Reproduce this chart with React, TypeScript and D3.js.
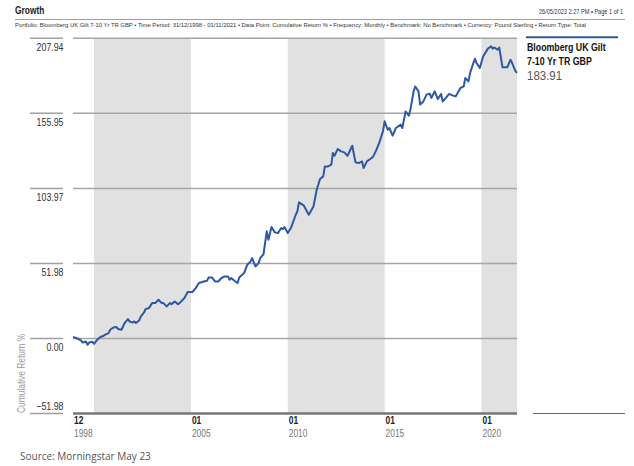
import React from "react";
import * as d3 from "d3";

// monthly cumulative return %
const months = [
  "1998-12", "1999-01", "1999-03", "1999-05", "1999-06", "1999-08", "1999-09", "1999-10", "1999-12",
  "2000-01", "2000-03", "2000-05", "2000-07", "2000-08", "2000-10", "2000-11",
  "2001-01", "2001-03", "2001-04", "2001-06", "2001-07", "2001-08", "2001-10", "2001-11",
  "2002-01", "2002-02", "2002-03", "2002-05", "2002-06", "2002-08", "2002-09", "2002-11",
  "2003-01", "2003-03", "2003-05", "2003-07", "2003-08", "2003-10", "2003-12",
  "2004-01", "2004-03", "2004-05", "2004-06", "2004-09", "2004-11",
  "2005-02", "2005-04", "2005-06", "2005-08", "2005-09", "2005-11", "2005-12",
  "2006-02", "2006-04", "2006-06", "2006-08", "2006-10", "2006-12",
  "2007-01", "2007-02", "2007-04", "2007-06", "2007-07", "2007-10", "2007-12",
  "2008-02", "2008-03", "2008-05", "2008-07", "2008-08", "2008-10", "2008-12",
  "2009-01", "2009-03", "2009-05", "2009-07", "2009-09", "2009-10", "2009-11",
  "2010-01", "2010-03", "2010-06", "2010-07", "2010-08", "2010-11",
  "2011-02", "2011-05", "2011-07", "2011-09", "2011-11", "2011-12",
  "2012-02", "2012-04", "2012-05", "2012-06", "2012-08", "2012-10", "2012-12",
  "2013-02", "2013-05", "2013-07", "2013-09", "2013-11", "2013-12",
  "2014-02", "2014-05", "2014-06", "2014-08", "2014-10", "2014-12",
  "2015-01", "2015-03", "2015-04", "2015-06", "2015-08", "2015-11", "2015-12",
  "2016-02", "2016-04", "2016-05", "2016-07", "2016-08", "2016-10", "2016-11",
  "2017-01", "2017-03", "2017-05", "2017-06", "2017-08", "2017-10", "2017-12",
  "2018-01", "2018-03", "2018-05", "2018-07", "2018-09", "2018-12",
  "2019-02", "2019-03", "2019-05", "2019-06", "2019-08", "2019-09", "2019-10", "2019-12",
  "2020-02", "2020-05", "2020-07", "2020-08", "2020-09", "2020-11", "2020-12",
  "2021-02", "2021-05", "2021-07", "2021-08", "2021-10", "2021-11",
];

const returns = [
  1.0, 0.7, -0.2, -1.4, -2.8, -2.1, -4.4, -2.8, -2.3,
  -3.7, -0.9, 1.0, 1.9, 2.6, 3.7, 6.0,
  7.6, 7.9, 6.5, 6.0, 8.3, 10.7, 13.4, 11.8,
  11.1, 11.8, 10.7, 12.5, 15.2, 18.0, 20.4, 21.0,
  24.5, 24.5, 26.8, 24.5, 24.5, 22.2, 24.5,
  23.8, 25.6, 23.8, 24.5, 28.0, 32.2,
  32.2, 34.9, 38.4, 39.1, 39.5, 40.0, 42.3,
  42.3, 39.5, 39.5, 41.9, 43.0, 43.0,
  40.7, 41.9, 40.0, 38.4, 42.3, 45.3, 51.1,
  53.4, 55.7, 49.9, 52.2, 55.7, 58.5, 74.2,
  68.4, 77.2, 73.5, 73.0, 76.5, 75.8, 77.2,
  73.0, 76.5, 85.7, 88.0, 94.3, 92.0,
  85.7, 91.5, 103.0, 110.5, 112.3, 119.2,
  119.2, 120.4, 128.5, 126.6, 131.3, 129.6, 128.9,
  126.6, 133.5, 122.0, 121.5, 122.7, 118.1,
  122.7, 125.0, 126.1, 130.8, 136.5, 143.5,
  150.4, 144.6, 145.8, 140.5, 145.8, 148.1, 145.8,
  157.3, 154.3, 158.5, 171.2, 174.6, 171.2, 162.0,
  164.2, 168.9, 169.6, 166.6, 171.2, 165.9, 169.4,
  164.2, 166.6, 169.4, 168.4, 167.7, 173.5,
  174.6, 180.4, 178.1, 184.0, 190.8, 193.8, 190.8, 187.4,
  195.4, 200.8, 202.4, 200.8, 201.6, 200.0, 201.6,
  187.8, 187.8, 193.1, 190.8, 185.3, 183.91,
];

const yTicks = [-51.98, 0, 51.98, 103.97, 155.95, 207.94];
const xTicks = ["1998-12", "2005-01", "2010-01", "2015-01", "2020-01"];
const shadedBands = [
  ["2000-01", "2005-01"],
  ["2010-01", "2015-01"],
  ["2020-01", "2021-11"],
];

const seriesName = ["Bloomberg UK Gilt", "7-10 Yr TR GBP"];
const lastValue = "183.91";

const subtitle =
  "Portfolio: Bloomberg UK Gilt 7-10 Yr TR GBP • Time Period: 31/12/1998 - 01/11/2021 • Data Point: Cumulative Return % • Frequency: Monthly • Benchmark: No Benchmark • Currency: Pound Sterling • Return Type: Total";

const parse = d3.timeParse("%Y-%m");

// no condensed font installed, so squeeze Liberation Sans horizontally
const Narrow: React.FC<{
  x: number;
  y: number;
  size: number;
  fill?: string;
  bold?: boolean;
  anchor?: "start" | "end" | "middle";
  sx?: number;
  children: React.ReactNode;
}> = ({ x, y, size, fill = "#333", bold, anchor = "start", sx = 0.8, children }) => (
  <text
    transform={`translate(${x},${y}) scale(${sx},1)`}
    fontFamily="'Liberation Sans', Arial, sans-serif"
    fontSize={size}
    fontWeight={bold ? "bold" : "normal"}
    fill={fill}
    textAnchor={anchor}
  >
    {children}
  </text>
);

const App: React.FC = () => {
  const width = 634;
  const height = 466;
  const left = 73;
  const right = 517;
  const top = 38.3;
  const bottom = 413.5;

  const x = d3
    .scaleTime()
    .domain([parse("1998-12")!, parse("2021-11")!])
    .range([left, right]);

  const y = d3.scaleLinear().domain([-51.98, 207.94]).range([bottom, top]);

  const data = months.map((m, i) => ({ date: parse(m)!, value: returns[i] }));

  const line = d3
    .line<{ date: Date; value: number }>()
    .x((d) => x(d.date))
    .y((d) => y(d.value));

  return (
    <svg
      width={width}
      height={height}
      style={{ position: "absolute", left: 0, top: 0, background: "#fff" }}
    >
      {/* header */}
      <Narrow x={15} y={14} size={10.5} bold fill="#222">
        Growth
      </Narrow>
      <Narrow x={623} y={14} size={7} fill="#333" anchor="end">
        26/05/2023 2:27 PM • Page 1 of 1
      </Narrow>
      <line x1={15} x2={625} y1={19.5} y2={19.5} stroke="#888" strokeWidth={0.8} />
      <text
        x={15}
        y={26.5}
        fontSize={6.2}
        fontFamily="'Liberation Sans', Arial, sans-serif"
        fill="#333"
        textLength={571}
        lengthAdjust="spacingAndGlyphs"
      >
        {subtitle}
      </text>

      {/* shaded periods */}
      {shadedBands.map(([a, b]) => (
        <rect
          key={a}
          x={x(parse(a)!)}
          y={top}
          width={x(parse(b)!) - x(parse(a)!)}
          height={bottom - top}
          fill="#e1e1e1"
        />
      ))}

      {/* grid + left ticks */}
      {yTicks.map((t) => (
        <g key={t}>
          {t !== yTicks[0] && (
            <line x1={left} x2={right} y1={y(t)} y2={y(t)} stroke="#a6a6a6" strokeWidth={1.5} />
          )}
          <line x1={30} x2={63} y1={y(t)} y2={y(t)} stroke="#a0a0a0" strokeWidth={1.5} />
          <Narrow x={63.5} y={t === yTicks[0] ? y(t) - 4 : y(t) + 13} size={11} fill="#333" anchor="end">
            {t < 0 ? "\u2212" + Math.abs(t).toFixed(2) : t.toFixed(2)}
          </Narrow>
        </g>
      ))}

      <g transform="translate(25,413) rotate(-90)">
        <Narrow x={0} y={0} size={10.5} fill="#9a9a9a">
          Cumulative Return %
        </Narrow>
      </g>

      {/* series */}
      <path d={line(data) ?? ""} fill="none" stroke="#2c58a4" strokeWidth={2} strokeLinejoin="round" />

      {/* bottom axis */}
      <line x1={left} x2={right} y1={bottom} y2={bottom} stroke="#777" strokeWidth={2.5} />
      {xTicks.map((t) => {
        const d = parse(t)!;
        return (
          <g key={t}>
            <Narrow x={x(d) + 1} y={423.5} size={10.5} bold fill="#222">
              {d3.timeFormat("%m")(d)}
            </Narrow>
            <Narrow x={x(d) + 1} y={437} size={10.5} fill="#777">
              {d3.timeFormat("%Y")(d)}
            </Narrow>
          </g>
        );
      })}

      {/* legend */}
      <line x1={526} x2={618} y1={37.3} y2={37.3} stroke="#2c58a4" strokeWidth={2} />
      {seriesName.map((s, i) => (
        <Narrow key={s} x={527} y={50.5 + i * 14.5} size={11} bold fill="#111">
          {s}
        </Narrow>
      ))}
      <Narrow x={527} y={80} size={13.5} fill="#555" sx={0.85}>
        {lastValue}
      </Narrow>
      <line x1={533} x2={625} y1={bottom} y2={bottom} stroke="#666" strokeWidth={1.2} />

      <text x={20} y={460} fontSize={10} fontFamily="'Open Sans', sans-serif" fill="#555">
        Source: Morningstar May 23
      </text>
    </svg>
  );
};

export default App;
